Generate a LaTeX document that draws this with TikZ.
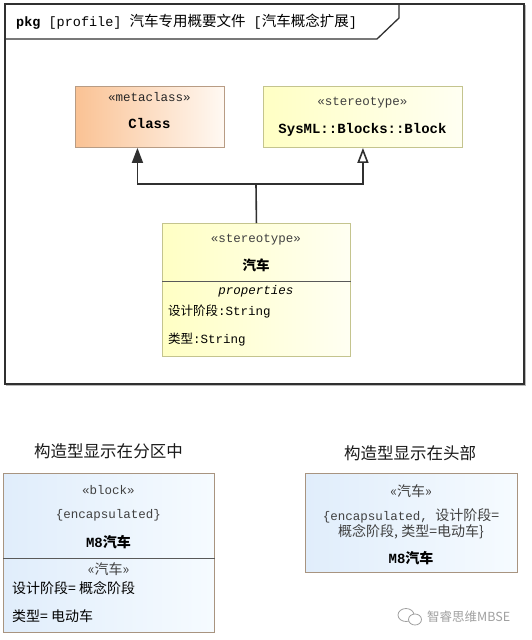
\documentclass[tikz,border=0pt]{standalone}
\usepackage{fontspec}
\setmainfont{Liberation Mono}
\newfontfamily\cjk{Noto Sans CJK SC}
\usetikzlibrary{arrows.meta}
\definecolor{framec}{HTML}{303030}
\definecolor{clsL}{HTML}{FAC294}
\definecolor{clsR}{HTML}{FFF9F3}
\definecolor{clsB}{HTML}{B89C84}
\definecolor{yelL}{HTML}{FFFFC4}
\definecolor{yelR}{HTML}{FFFFF2}
\definecolor{yelB}{HTML}{C4C48E}
\definecolor{bluL}{HTML}{E0EDFB}
\definecolor{bluR}{HTML}{F6FBFF}
\definecolor{bluB}{HTML}{A89480}
\definecolor{stc}{HTML}{404040}
\definecolor{wmc}{HTML}{A0A0A0}
\begin{document}
\begin{tikzpicture}[x=1pt,y=-1pt,
  box/.style={inner sep=0pt, line width=0.9pt, anchor=north west},
  clsbox/.style={box, draw=clsB, left color=clsL, right color=clsR},
  yelbox/.style={box, draw=yelB, left color=yelL, right color=yelR},
  blubox/.style={box, draw=bluB, left color=bluL, right color=bluR},
  txt/.style={inner sep=0pt, font=\fontsize{12.5}{14}\selectfont},
  sttxt/.style={txt, text=stc},
  bold/.style={inner sep=0pt, font=\fontsize{14}{16}\selectfont\bfseries},
  cjktxt/.style={inner sep=0pt, font=\fontsize{14}{16}\selectfont\cjk},
  ttl/.style={inner sep=0pt, font=\fontsize{16.5}{18}\selectfont\cjk, text=black!90},
  gen/.style={line width=1.6pt, draw=framec},
  divl/.style={line width=0.9pt, draw=gray!70!black}
]
\useasboundingbox (0,0) rectangle (532,640);
\fill[white] (0,0) rectangle (532,640);

% package frame
\draw[gray!55, line width=1pt] (6.5,5.5) rectangle (525.5,385.5);
\draw[framec, line width=1.3pt, fill=white] (5,4) rectangle (524,384);
\draw[framec, line width=1.3pt] (5,39) -- (377,39) -- (399,18) -- (399,4);
\node[anchor=west, inner sep=0pt, font=\fontsize{13.5}{15}\selectfont] (pkgtitle) at (16,22)
  {\textbf{pkg} [profile] {\cjk\fontsize{14.5}{16}\selectfont 汽车专用概要文件} [{\cjk\fontsize{14.5}{16}\selectfont 汽车概念扩展}]};

% metaclass Class
\node[clsbox, minimum width=149pt, minimum height=61pt] (cls) at (75,86) {};
\node[txt, text=black!85] (clsst) at (149.5,97) {«metaclass»};
\node[bold] (clsname) at (149.5,123) {Class};

% stereotype Block
\node[yelbox, minimum width=199pt, minimum height=61pt] (blk) at (263,86) {};
\node[sttxt] (blkst) at (362.5,103) {«stereotype»};
\node[bold] (blkname) at (362.5,130) {SysML::Blocks::Block};

% stereotype 汽车
\node[yelbox, minimum width=188pt, minimum height=133pt] (che) at (162,223) {};
\node[sttxt] (chest) at (256,240) {«stereotype»};
\node[cjktxt, font=\fontsize{13.5}{16}\selectfont\cjk\bfseries] (chename) at (256,265) {汽车};
\draw[divl] (che.west |- 0,281) -- (che.east |- 0,281);
\node[txt, font=\fontsize{12.5}{14}\selectfont\itshape] (props) at (256,291) {properties};
\node[txt, anchor=west] (p1) at (168,312) {{\cjk\fontsize{12.5}{14}\selectfont 设计阶段}:String};
\node[txt, anchor=west] (p2) at (168,340) {{\cjk\fontsize{12.5}{14}\selectfont 类型}:String};

% generalizations
\coordinate (jn) at (256,184);
\draw[gen] (che.north) -- (jn);
\draw[gen, -{Triangle[length=15pt, width=11pt]}] (jn) -| ([xshift=-12.5pt]cls.south);
\draw[gen, -{Triangle[open, length=15pt, width=11pt, fill=white]}] (jn) -| (blk.south);

% bottom-left
\node[ttl] (t1) at (108.5,451) {构造型显示在分区中};
\node[blubox, minimum width=211pt, minimum height=159pt] (lb) at (3,473) {};
\node[sttxt] (lbst) at (108.5,490) {«block»};
\node[sttxt] (lbenc) at (108.5,515) {\{encapsulated\}};
\node[bold] (lbname) at (108.5,542) {M8{\cjk\fontsize{14}{16}\selectfont 汽车}};
\draw[divl] (lb.west |- 0,558) -- (lb.east |- 0,558);
\node[cjktxt, text=stc] (lbst2) at (108.5,569) {«汽车»};
\node[cjktxt, anchor=west] (lbp1) at (12,588) {设计阶段= 概念阶段};
\node[cjktxt, anchor=west] (lbp2) at (12,616) {类型= 电动车};

% bottom-right
\node[ttl] (t2) at (410,453) {构造型显示在头部};
\node[blubox, minimum width=212pt, minimum height=99pt] (rb) at (305,473) {};
\node[cjktxt, text=stc] (rbst) at (411,491) {«汽车»};
\node[sttxt] (rbl1) at (411,516) {\{encapsulated, {\cjk\fontsize{14}{16}\selectfont 设计阶段=}};
\node[cjktxt, text=stc] (rbl2) at (411,532) {概念阶段, 类型=电动车\}};
\node[bold] (rbname) at (411,558) {M8{\cjk\fontsize{14}{16}\selectfont 汽车}};

% watermark
\draw[wmc, line width=0.8pt] (406,615) ellipse (8pt and 6.5pt);
\draw[wmc, line width=0.8pt, fill=white] (415,619.5) ellipse (6.5pt and 5.5pt);
\node[inner sep=0pt, anchor=west, text=wmc, font=\fontsize{12.5}{14}\selectfont\cjk] (wm) at (427,617) {智睿思维MBSE};
\end{tikzpicture}
\end{document}
